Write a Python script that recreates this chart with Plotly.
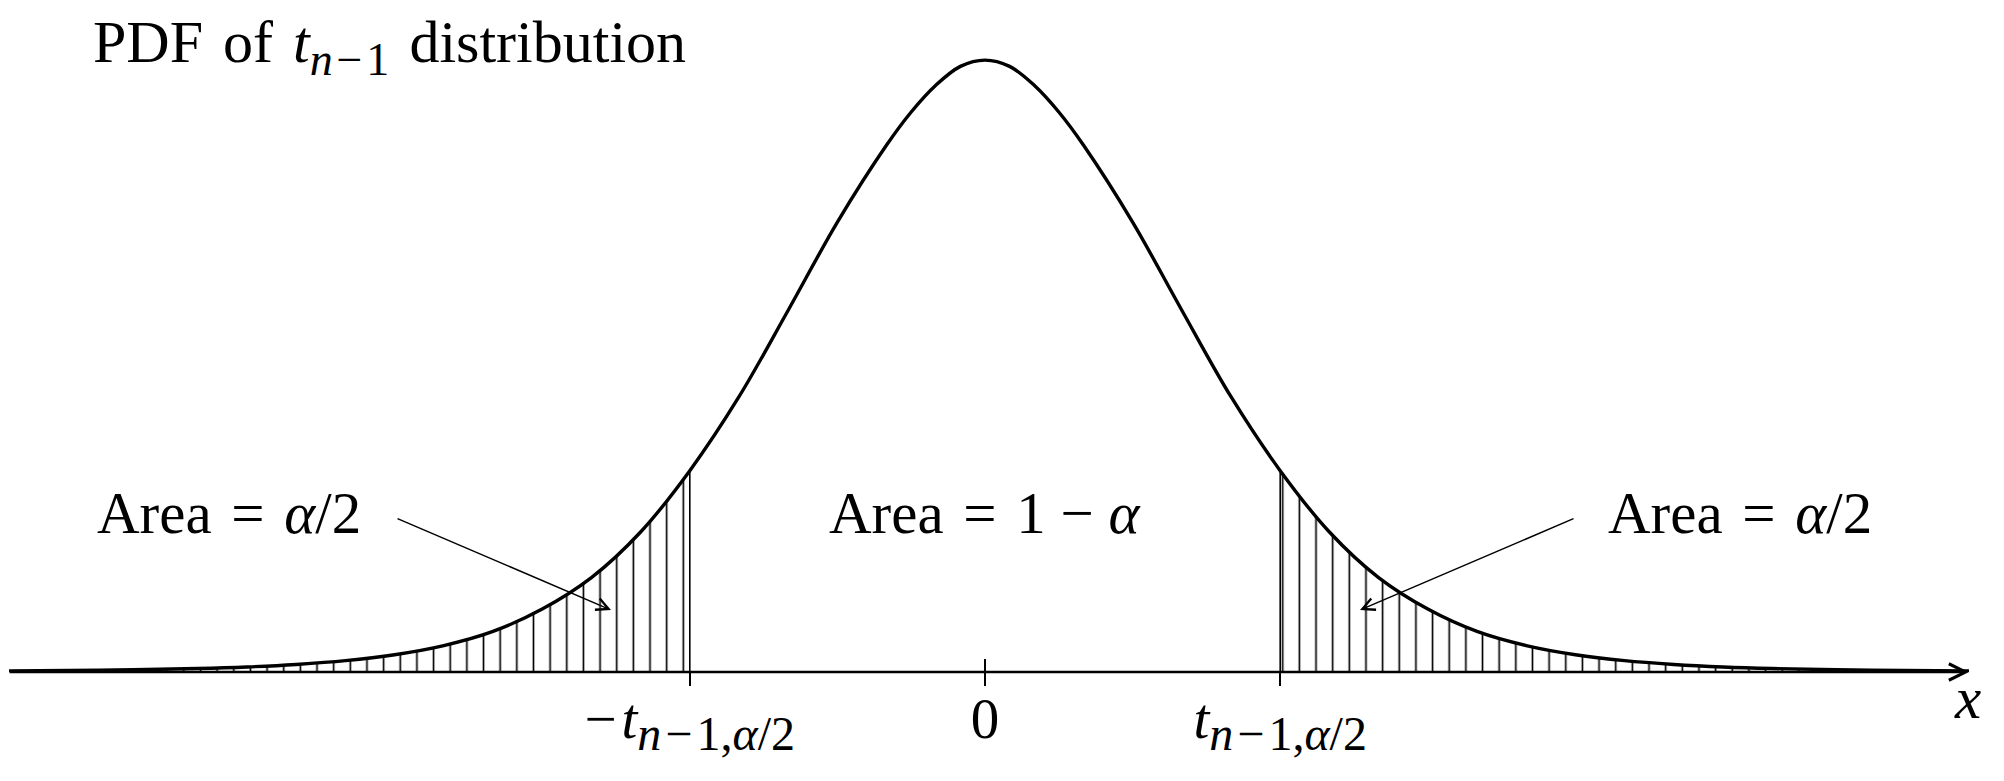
import plotly.graph_objects as go

# PDF of the t distribution, heights
x_vals = [-5.0, -4.5, -4.0, -3.75, -3.5, -3.25, -3.0, -2.75, -2.5, -2.25, -2.0, -1.75, -1.5,
          -1.25, -1.0, -0.75, -0.5, -0.375, -0.25, -0.125, 0.0, 0.125, 0.25, 0.375, 0.5, 0.75, 1.0, 1.25,
          1.5, 1.75, 2.0, 2.25, 2.5, 2.75, 3.0, 3.25, 3.5, 3.75, 4.0, 4.5, 5.0]
pdf_vals = [0.0006, 0.0011, 0.0022, 0.0032, 0.0048, 0.0072, 0.0110, 0.0168, 0.0258, 0.0400, 0.0600, 0.0890, 0.1280,
            0.1750, 0.2300, 0.2860, 0.3350, 0.3560, 0.3730, 0.3850, 0.3890, 0.3850, 0.3730, 0.3560, 0.3350,
            0.2860, 0.2300, 0.1750,
            0.1280, 0.0890, 0.0600, 0.0400, 0.0258, 0.0168, 0.0110, 0.0072, 0.0048, 0.0032, 0.0022, 0.0011, 0.0006]
t_crit = 1.5

hsp = "\u200a"
sub_txt = f'<sub><span style="font-size:48px"><i>n</i>{hsp}−{hsp}1,<i>α</i>/2</span></sub>'
tick_vals = [-t_crit, 0, t_crit]
tick_text = [f"−{hsp}<i>t</i>" + sub_txt, "0", "<i>t</i>" + sub_txt]

FONT = "Liberation Serif"
W, H = 2004, 781
OFF = 8          # the page body adds an 8px margin around the plot div
ML = 1
AXIS_Y = 672     # page y of the x axis
PW = W - ML
PH = AXIS_Y - OFF
MB = H - PH


def px(x):
    return (x - OFF - ML) / PW


def py(y):
    return 1 - (y - OFF) / PH


left_x = [x for x in x_vals if x <= -t_crit]
left_y = [y for x, y in zip(x_vals, pdf_vals) if x <= -t_crit]
right_x = [x for x in x_vals if x >= t_crit]
right_y = [y for x, y in zip(x_vals, pdf_vals) if x >= t_crit]
crit_y = pdf_vals[x_vals.index(t_crit)]

hatch = dict(shape="|", fgcolor="black", bgcolor="rgba(0,0,0,0)", size=16.65, solidity=0.1,
             fillmode="replace")

fig = go.Figure()
for tx, ty in [(left_x, left_y), (right_x, right_y)]:
    fig.add_trace(go.Scatter(x=tx, y=ty, mode="lines", line=dict(width=0, shape="spline"),
                             fill="tozeroy", fillcolor="rgba(0,0,0,0)", fillpattern=hatch,
                             hoverinfo="skip", showlegend=False))

fig.add_trace(go.Scatter(x=[-t_crit, -t_crit, None, t_crit, t_crit], y=[0, crit_y, None, 0, crit_y],
                         mode="lines", line=dict(color="black", width=1.6), xaxis="x2",
                         hoverinfo="skip", showlegend=False))

fig.add_trace(go.Scatter(x=x_vals, y=pdf_vals, mode="lines",
                         line=dict(color="black", width=3.4, shape="spline"),
                         hoverinfo="skip", showlegend=False))

unit = 196.8                       # px per x unit
centre = 985 - OFF - ML            # plot px of x = 0
x_range = [-centre / unit, (PW - centre) / unit]
y_range = [0, PH / 1573]

label_font = dict(family=FONT, size=59, color="black")
title_font = dict(family=FONT, size=60, color="black")
sp = "\u2004"
annotations = [
    # x axis with arrow
    dict(x=5.0, y=0, xref="x", yref="y", ax=-1969, ay=0, axref="pixel", ayref="pixel", text="",
         showarrow=True, arrowhead=5, arrowsize=1.3, arrowwidth=2.5, arrowcolor="black", standoff=0),
    dict(x=px(1967), y=py(664), xref="paper", yref="paper", text="<i>x</i>", showarrow=False,
         xanchor="center", yanchor="top", font=label_font, borderpad=0),
    dict(x=px(92), y=py(8), xref="paper", yref="paper",
         text=f'PDF{sp}of{sp}<i>t</i><sub><span style="font-size:46px"><i>n</i>{hsp}−{hsp}1</span></sub>'
              f'{sp}distribution',
         showarrow=False, xanchor="left", yanchor="top", font=title_font, borderpad=0),
    dict(x=px(229), y=py(479), xref="paper", yref="paper", text=f"Area{sp}={sp}<i>α</i>/2",
         showarrow=False, xanchor="center", yanchor="top", font=label_font, borderpad=0),
    dict(x=px(985), y=py(479), xref="paper", yref="paper", text=f"Area{sp}={sp}1 − <i>α</i>",
         showarrow=False, xanchor="center", yanchor="top", font=label_font, borderpad=0),
    dict(x=px(1740), y=py(479), xref="paper", yref="paper", text=f"Area{sp}={sp}<i>α</i>/2",
         showarrow=False, xanchor="center", yanchor="top", font=label_font, borderpad=0),
    # pointers into the tails
    dict(x=px(611), y=py(610), xref="paper", yref="paper", ax=396 - 611, ay=518 - 610, text="",
         showarrow=True, arrowhead=5, arrowsize=1.6, arrowwidth=1.5, arrowcolor="black", standoff=0),
    dict(x=px(1360), y=py(610), xref="paper", yref="paper", ax=1575 - 1360, ay=518 - 610, text="",
         showarrow=True, arrowhead=5, arrowsize=1.6, arrowwidth=1.5, arrowcolor="black", standoff=0),
]

fig.update_layout(
    width=W, height=H,
    margin=dict(l=ML, r=0, t=0, b=MB),
    plot_bgcolor="white", paper_bgcolor="white",
    showlegend=False,
    xaxis=dict(range=x_range, showgrid=False, zeroline=False, showline=False,
               tickmode="array", tickvals=tick_vals, ticktext=tick_text,
               ticks="outside", ticklen=13, tickwidth=1.6, tickcolor="black",
               tickfont=dict(family=FONT, size=57, color="black"), ticklabelstandoff=-16),
    xaxis2=dict(range=x_range, overlaying="x", anchor="y", side="bottom", showgrid=False,
                zeroline=False, showline=False, tickmode="array", tickvals=[0],
                ticks="inside", ticklen=13, tickwidth=1.6, tickcolor="black", showticklabels=False),
    yaxis=dict(range=y_range, visible=False, showgrid=False, zeroline=False),
    annotations=annotations,
)

fig.write_html("out.html")
